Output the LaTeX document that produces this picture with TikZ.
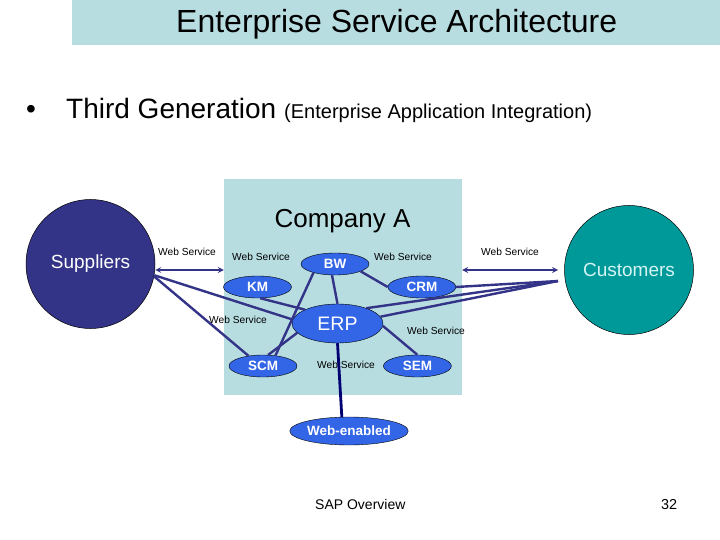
\documentclass[tikz,border=0pt]{standalone}
\usepackage{fontspec}
\setmainfont{Liberation Sans}
\usetikzlibrary{positioning,arrows.meta,shapes.geometric}
\definecolor{paleblue}{HTML}{B8DDE1}
\definecolor{navyline}{HTML}{333388}
\definecolor{ovalblue}{HTML}{3366E6}
\definecolor{tealfill}{HTML}{009999}
\definecolor{palecyan}{HTML}{D5F5F5}

\begin{document}
\begin{tikzpicture}[
    x=1pt, y=-1pt,
    band/.style={rectangle, fill=paleblue, inner sep=0pt},
    party/.style={circle, draw=black, line width=0.5pt, inner sep=0pt, minimum size=129pt, font=\fontsize{19}{21}\selectfont},
    oval/.style={ellipse, draw=black, line width=0.4pt, fill=ovalblue, text=white, inner sep=0pt, minimum width=68pt, minimum height=22pt, font=\fontsize{13.5}{15}\bfseries\selectfont},
    service/.style={inner sep=0pt, font=\fontsize{10.2}{12}\selectfont},
    plain/.style={inner sep=0pt, anchor=base west},
    link/.style={navyline, line width=2.4pt},
    arrow/.style={navyline, line width=1.6pt, <->, >=stealth}
]
    \useasboundingbox (0,0) rectangle (720,540);

    % Backgrounds
    \node[band, minimum width=648pt, minimum height=45pt] (titlebar) at (396,22.5) {};
    \node[band, minimum width=238pt, minimum height=216pt] (company) at (343,287) {};

    % Nodes
    \node[party, fill=navyline, text=white] (suppliers) at (90.5,264) {Suppliers};
    \node[party, fill=tealfill, text=palecyan] (customers) at (629,270) {Customers};
    \node[oval] (bw) at (335,264) {BW};
    \node[oval] (km) at (257.5,287) {KM};
    \node[oval, right=96pt of km] (crm) {CRM};
    \node[oval, minimum width=91pt, minimum height=39pt, font=\fontsize{19.5}{21}\selectfont] (erp) at (337.5,323.5) {ERP};
    \node[oval] (scm) at (263,366) {SCM};
    \node[oval, right=86pt of scm] (sem) {SEM};
    \node[oval, minimum width=114pt, minimum height=28pt] (web) at (349,431) {Web-enabled};
    \coordinate (custin) at (558,281);
    \coordinate (custarrow) at (558,270);

    % Arrows
    \draw[arrow] (suppliers.east |- custarrow) -- (company.west |- custarrow);
    \draw[arrow] (company.east |- custarrow) -- (custarrow);
    \draw[link] (suppliers.-10) -- (erp.175);
    \draw[link] (suppliers.-11) -- (scm.145);
    \draw[link] (km.-77) -- (erp.157);
    \draw[link] (bw.202) -- (scm.40);
    \draw[link] (erp.193) -- (scm.65);
    \draw[link] (bw.-105) -- (erp.90);
    \draw[link] (bw.-16) -- (crm.180);
    \draw[link] (crm.0) -- (custin);
    \draw[link] (erp.28) -- (custin);
    \draw[link] (erp.9) -- (custin);
    \draw[link] (erp.-3) -- (sem.90);
    \draw[link, draw=black!10!blue!50!black, line width=2.8pt] (erp.-90) -- (web.117);

    % Labels
    \node[service] (ws1) at (187,252) {Web Service};
    \node[service] (ws2) at (261,257) {Web Service};
    \node[service] (ws3) at (403,257) {Web Service};
    \node[service] (ws4) at (510,252) {Web Service};
    \node[service] (ws5) at (238,320) {Web Service};
    \node[service] (ws6) at (346,365) {Web Service};
    \node[service] (ws7) at (436,331) {Web Service};
    \node[inner sep=0pt, font=\fontsize{26}{28}\selectfont] (companyname) at (342.5,221) {Company A};

    % Title
    \node[plain, font=\fontsize{32}{34}\selectfont] (title) at (176,33) {Enterprise Service Architecture};
    \node[plain, font=\fontsize{28}{30}\selectfont] (bullet) at (26,119) {•};
    \node[plain, font=\fontsize{28}{30}\selectfont] (third) at (66,119) {Third Generation};
    \node[plain, font=\fontsize{20}{22}\selectfont] (eai) at (284,119) {(Enterprise Application Integration)};
    \node[plain, font=\fontsize{14}{16}\selectfont] (overview) at (315,509) {SAP Overview};
    \node[plain, font=\fontsize{14.4}{16}\selectfont] (page) at (661,509) {32};
\end{tikzpicture}
\end{document}
